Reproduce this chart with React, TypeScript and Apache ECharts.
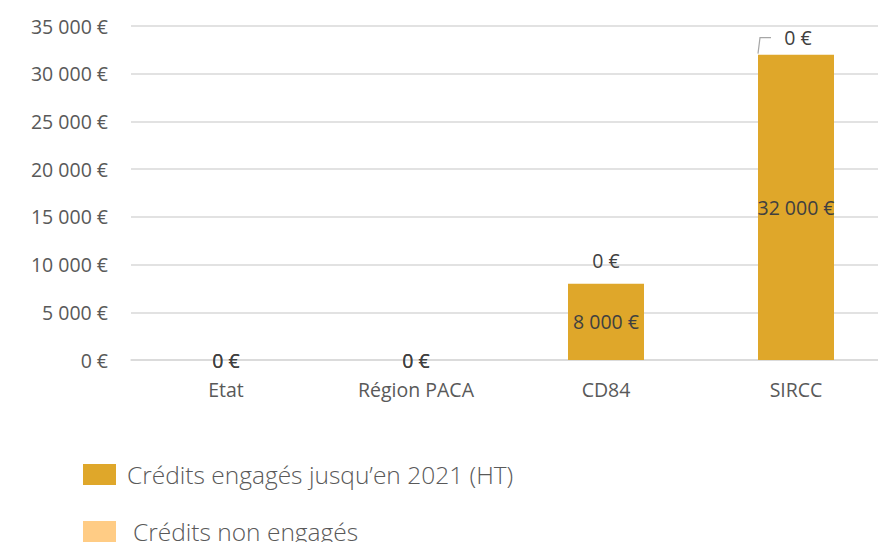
import React, { useEffect, useRef } from "react";
import * as echarts from "echarts";

const categories = ["Etat", "Région PACA", "CD84", "SIRCC"];
const engagedName = "Crédits engagés jusqu’en 2021 (HT)";
const nonEngagedName = "Crédits non engagés";
const engaged = [0, 0, 8000, 32000];
const nonEngaged = [0, 0, 0, 0];
const yMin = 0;
const yMax = 35000;
const yInterval = 5000;

const fmt = (v: number) =>
  String(v).replace(/\B(?=(\d{3})+(?!\d))/g, " ") + " €";

const FONT = "'Open Sans', 'Noto Sans', sans-serif";

export default function App() {
  const ref = useRef<HTMLDivElement>(null);
  useEffect(() => {
    if (!ref.current) return;
    const chart = echarts.init(ref.current, null, { renderer: "svg" });
    const labelBase = {
      color: "#404040",
      fontSize: 19.5,
      fontFamily: FONT,
      formatter: (p: any) => fmt(p.value),
    };
    const nonEngagedData = nonEngaged.map((v, i) => {
      if (i === 2)
        return { value: v, label: { position: "top", distance: 13 } };
      if (i === 3)
        return { value: v, label: { position: "top", distance: 7, offset: [2, 0] } };
      return { value: v, label: { position: "inside" } };
    });
    chart.setOption({
      animation: false,
      grid: {
        left: 131,
        top: 26,
        width: 760,
        height: 334,
        outerBoundsMode: "none",
        containLabel: false,
      },
      xAxis: {
        type: "category",
        data: categories,
        axisLine: { show: true, lineStyle: { color: "#d9d9d9", width: 1.5 } },
        axisTick: { show: false },
        axisLabel: {
          color: "#595959",
          fontSize: 19.5,
          fontFamily: FONT,
          margin: 19,
        },
      },
      yAxis: {
        type: "value",
        min: yMin,
        max: yMax,
        interval: yInterval,
        axisLine: { show: false },
        axisTick: { show: false },
        splitLine: { lineStyle: { color: "#d9d9d9", width: 1.5 } },
        axisLabel: {
          color: "#595959",
          fontSize: 19.5,
          fontFamily: FONT,
          margin: 23,
          formatter: (v: number) => fmt(v),
        },
      },
      legend: [
        {
          data: [engagedName],
          left: 83,
          top: 462,
          padding: 0,
          icon: "rect",
          itemWidth: 33,
          itemHeight: 21,
          selectedMode: false,
          textStyle: {
            color: "#595959",
            fontSize: 24.5,
            lineHeight: 21,
            fontWeight: 300,
            fontFamily: FONT,
            padding: [0, 0, 0, 6],
          },
        },
        {
          data: [nonEngagedName],
          left: 83,
          top: 519,
          padding: 0,
          icon: "rect",
          itemWidth: 33,
          itemHeight: 21,
          selectedMode: false,
          textStyle: {
            color: "#595959",
            fontSize: 24.5,
            lineHeight: 21,
            fontWeight: 300,
            fontFamily: FONT,
            padding: [0, 0, 0, 12],
          },
        },
      ],
      series: [
        {
          name: engagedName,
          type: "bar",
          stack: "total",
          barWidth: "40%",
          itemStyle: { color: "#DFA72A" },
          label: { show: true, position: "inside", ...labelBase },
          emphasis: { disabled: true },
          data: engaged,
        },
        {
          name: nonEngagedName,
          type: "bar",
          stack: "total",
          barWidth: "40%",
          itemStyle: { color: "#FFCC85" },
          label: { show: true, ...labelBase },
          emphasis: { disabled: true },
          data: nonEngagedData,
        },
      ],
    });

    // leader line for the SIRCC "non engagés" label, derived from the bar position
    const top = chart.convertToPixel({ gridIndex: 0 }, [3, engaged[3] + nonEngaged[3]]);
    const left = chart.convertToPixel({ gridIndex: 0 }, [2, 0]);
    const band = top[0] - left[0];
    const half = (band * 0.4) / 2;
    chart.setOption({
      graphic: [
        {
          type: "polyline",
          shape: {
            points: [
              [top[0] - half, top[1] - 1],
              [top[0] - half + 2, top[1] - 17],
              [top[0] - half + 13, top[1] - 17],
            ],
          },
          style: { stroke: "#a6a6a6", lineWidth: 1.2, fill: "none" },
          silent: true,
        },
      ],
    });
    return () => chart.dispose();
  }, []);
  return (
    <div
      ref={ref}
      style={{ position: "absolute", left: 0, top: 0, width: 878, height: 542, background: "#fff" }}
    />
  );
}
